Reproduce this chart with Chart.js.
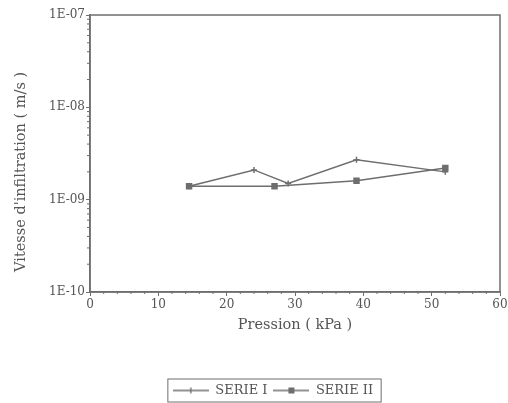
<!DOCTYPE html>
<html>
<head>
<meta charset="utf-8">
<script src="https://cdn.jsdelivr.net/npm/chart.js@4.4.0/dist/chart.umd.min.js"></script>
<style>
  html, body { margin: 0; padding: 0; background: #fff; }
  #wrap { width: 508px; height: 403px; position: relative; }
</style>
</head>
<body>
<div id="wrap"><canvas id="c" width="508" height="403"></canvas></div>
<script>
// data
const pressureI = [14.5, 24, 29, 39, 52];
const serieI = [1.4e-9, 2.1e-9, 1.5e-9, 2.7e-9, 2.0e-9];
const pressureII = [14.5, 27, 39, 52];
const serieII = [1.4e-9, 1.4e-9, 1.6e-9, 2.2e-9];
const yDecades = [1e-10, 1e-9, 1e-8, 1e-7];
const xTicks = [0, 10, 20, 30, 40, 50, 60];

const INK = '#6e6e6e';
const TEXT = '#555555';
const FONT = '"DejaVu Serif", "Liberation Serif", serif';

function toPoints(xs, ys) {
  return xs.map((x, i) => ({ x: x, y: ys[i] }));
}

// small legend glyph: line with marker
function legendGlyph(kind) {
  const cv = document.createElement('canvas');
  cv.width = 36; cv.height = 10;
  const g = cv.getContext('2d');
  g.strokeStyle = INK; g.fillStyle = INK; g.lineWidth = 1.3;
  g.beginPath(); g.moveTo(0, 5); g.lineTo(36, 5); g.stroke();
  if (kind === 'cross') {
    g.beginPath(); g.moveTo(18, 2); g.lineTo(18, 8); g.stroke();
  } else {
    g.fillRect(15, 2, 6, 6);
  }
  return cv;
}

// the legend sits a bit right of and below the centre in the original
const legendShift = {
  id: 'legendShift',
  afterLayout(chart) {
    const lg = chart.legend;
    if (!lg) return;
    const dx = 23, dy = 4;
    lg.left += dx; lg.right += dx; lg.top += dy; lg.bottom += dy;
    (lg.legendHitBoxes || []).forEach(h => { h.left += dx; h.top += dy; });
  }
};

const frameAndMinor = {
  id: 'frameAndMinor',
  afterDraw(chart) {
    const { ctx, chartArea: a, scales } = chart;
    ctx.save();
    ctx.strokeStyle = INK;
    ctx.lineWidth = 1.5;
    ctx.strokeRect(a.left, a.top, a.right - a.left, a.bottom - a.top);
    ctx.lineWidth = 1;
    // minor ticks on log axis
    ctx.beginPath();
    yDecades.slice(0, -1).forEach(d => {
      for (let k = 2; k <= 9; k++) {
        const py = scales.y.getPixelForValue(d * k);
        ctx.moveTo(a.left - 3, py); ctx.lineTo(a.left, py);
      }
    });
    for (let v = 2; v < 60; v += 2) {
      if (v % 10 === 0) continue;
      const px = scales.x.getPixelForValue(v);
      ctx.moveTo(px, a.bottom); ctx.lineTo(px, a.bottom + 2);
    }
    ctx.stroke();
    // box round the legend
    const lg = chart.legend;
    if (lg && lg.legendHitBoxes && lg.legendHitBoxes.length) {
      const hb = lg.legendHitBoxes;
      const l = hb[0].left - 5, r = hb[hb.length - 1].left + hb[hb.length - 1].width + 8;
      const t = hb[0].top - 9, b = chart.height - 1;
      ctx.strokeRect(l, t, r - l, b - t);
    }
    ctx.restore();
  }
};

new Chart(document.getElementById('c'), {
  type: 'scatter',
  data: {
    datasets: [{
      label: 'SERIE I',
      data: toPoints(pressureI, serieI),
      showLine: true,
      borderColor: INK,
      backgroundColor: INK,
      borderWidth: 1.5,
      pointStyle: 'cross',
      pointRadius: 3,
      pointBorderWidth: 1.5
    }, {
      label: 'SERIE II',
      data: toPoints(pressureII, serieII),
      showLine: true,
      borderColor: INK,
      backgroundColor: INK,
      borderWidth: 1.5,
      pointStyle: 'rect',
      pointRadius: 3.5
    }]
  },
  options: {
    responsive: false,
    animation: false,
    layout: { padding: { left: 0, right: 8, top: 15, bottom: 0 } },
    plugins: {
      tooltip: { enabled: false },
      legend: {
        position: 'bottom',
        labels: {
          color: TEXT,
          font: { family: FONT, size: 13 },
          usePointStyle: true,
          pointStyleWidth: 36,
          boxWidth: 36,
          boxHeight: 10,
          padding: 6,
          generateLabels: (chart) => chart.data.datasets.map((ds, i) => ({
            text: ds.label,
            datasetIndex: i,
            fontColor: TEXT,
            pointStyle: legendGlyph(i === 0 ? 'cross' : 'rect'),
            lineWidth: 0
          }))
        }
      }
    },
    scales: {
      x: {
        type: 'linear',
        min: 0,
        max: 60,
        afterBuildTicks: (s) => { s.ticks = xTicks.map(v => ({ value: v })); },
        afterFit: (s) => { s.height = 82; s.paddingRight = 2; },
        border: { display: true, color: INK, width: 1.5 },
        grid: { display: true, drawOnChartArea: false, color: INK, tickLength: 4 },
        ticks: { color: TEXT, font: { family: FONT, size: 12 }, padding: 2, maxRotation: 0 },
        title: {
          display: true,
          text: 'Pression ( kPa )',
          color: TEXT,
          font: { family: FONT, size: 14.5 },
          padding: { top: 4, bottom: 40 }
        }
      },
      y: {
        type: 'logarithmic',
        min: 1e-10,
        max: 1e-7,
        afterBuildTicks: (s) => { s.ticks = yDecades.map(v => ({ value: v })); },
        afterFit: (s) => { s.width = 90; },
        border: { display: true, color: INK, width: 1.5 },
        grid: { display: true, drawOnChartArea: false, color: INK, tickLength: 4 },
        ticks: {
          color: TEXT,
          font: { family: FONT, size: 12 },
          padding: 1,
          callback: (v) => '1E-' + String(-Math.round(Math.log10(v))).padStart(2, '0')
        },
        title: {
          display: true,
          // trailing no-break spaces push the title down the axis, as in the original
          text: "Vitesse d'infiltration ( m/s )" + '\u00a0'.repeat(8),
          color: TEXT,
          font: { family: FONT, size: 14.5 },
          padding: { top: 13, bottom: 4 }
        }
      }
    }
  },
  plugins: [legendShift, frameAndMinor]
});
</script>
</body>
</html>
